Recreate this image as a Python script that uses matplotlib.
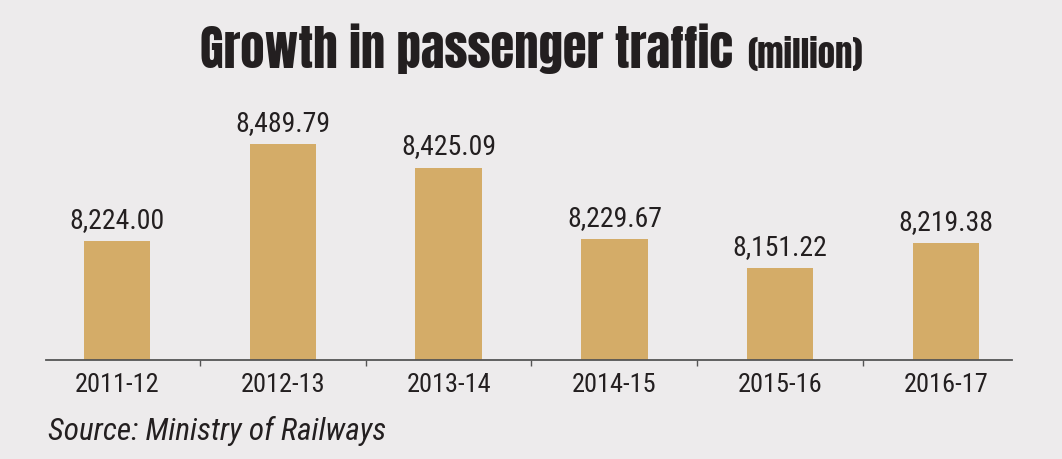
import matplotlib.pyplot as plt

years = ["2011-12", "2012-13", "2013-14", "2014-15", "2015-16", "2016-17"]
traffic = [8224.00, 8489.79, 8425.09, 8229.67, 8151.22, 8219.38]
labels = ["8,224.00", "8,489.79", "8,425.09", "8,229.67", "8,151.22", "8,219.38"]

bg = "#EDEBEC"
bar_col = "#D4AC68"
txt = "#231F20"
font = ["Roboto Condensed", "DejaVu Sans"]
title_font = ["Anton", "DejaVu Sans"]

fig = plt.figure(figsize=(10.62, 4.6), dpi=100, facecolor=bg)
ax = fig.add_axes([34 / 1062, 99 / 460, 995 / 1062, 262 / 460], facecolor=bg)

x = list(range(len(years)))
ax.bar(x, traffic, width=0.4, color=bar_col, zorder=2)
for xi, v, lab in zip(x, traffic, labels):
    ax.annotate(lab, (xi, v), xytext=(0, 6), textcoords="offset points",
                ha="center", va="bottom", fontsize=20, color=txt, family=font)

ax.set_xlim(-0.5, 5.5)
ax.set_ylim(7900, 8616)

for s in ["top", "right", "left"]:
    ax.spines[s].set_visible(False)
ax.spines["bottom"].set_color("#555555")
ax.spines["bottom"].set_linewidth(1.3)
ax.spines["bottom"].set_bounds(-0.43, 5.4)
ax.set_yticks([])

ax.set_xticks(x)
ax.set_xticklabels(years, fontsize=19, color=txt, family=font)
ax.tick_params(axis="x", which="major", length=0, pad=9)
ax.set_xticks([i + 0.5 for i in x[:-1]], minor=True)
ax.tick_params(axis="x", which="minor", length=4, width=1, color="#555555", direction="out")

# title in two parts, second part placed after the first one
t1 = fig.text(200 / 1062, 1 - 68 / 460, "Growth in passenger traffic", ha="left", va="baseline",
              fontsize=35, color=txt, family=title_font)
fig.canvas.draw()
bb = t1.get_window_extent()
fig.text((bb.x1 + 14) / 1062, 1 - 68 / 460, "(million)", ha="left", va="baseline",
         fontsize=25, color=txt, family=title_font)

fig.text(48 / 1062, 1 - 440 / 460, "Source: Ministry of Railways", ha="left", va="baseline",
         fontsize=22.5, style="italic", color=txt, family=font)

fig.savefig("out.png", dpi=100, facecolor=bg)
